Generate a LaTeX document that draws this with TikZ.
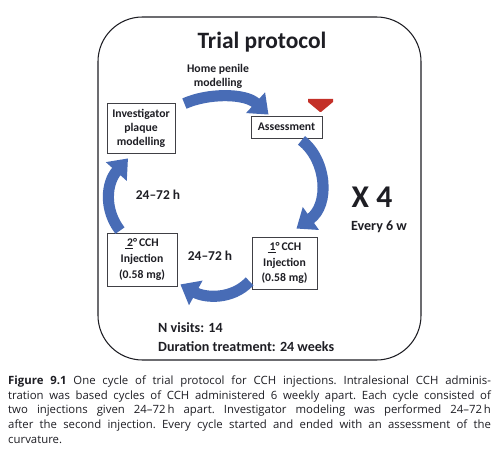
\documentclass[tikz,border=0pt]{standalone}
\usepackage{fontspec}
\setmainfont{Carlito}
\newfontfamily\capfont[Ligatures=TeX]{Open Sans}
\usetikzlibrary{arrows.meta}
\definecolor{arrblue}{RGB}{72,108,182}
\definecolor{tri}{RGB}{196,48,40}
\definecolor{ink}{RGB}{30,30,36}
\tikzset{
  px/.style={x=0.03cm,y=-0.03cm},
  stepbox/.style={draw=ink!85,line width=0.7pt,fill=white,inner sep=0pt,align=center,text=ink,font=\bfseries\fontsize{10}{12}\selectfont},
  cchbox/.style={stepbox,font=\bfseries\fontsize{10}{13.5}\selectfont},
  lbl/.style={text=ink,inner sep=0pt,font=\bfseries\fontsize{10}{12}\selectfont,align=center},
  bigarrow/.style={draw=arrblue,line width=9.5pt,line cap=butt,-{Triangle[length=15pt,width=23pt]}}
}
\begin{document}
\begin{tikzpicture}[px]
\useasboundingbox (0,0) rectangle (500,460);
\fill[white] (0,0) rectangle (500,460);
% outer frame
\draw[ink,line width=0.9pt,rounded corners=38] (98,17) rectangle (421,360);
\node[lbl,font=\bfseries\fontsize{20}{24}\selectfont] (title) at (262,42) {Trial protocol};
\node[lbl] (home) at (218,76) {Home penile\\modelling};
% boxes
\node[stepbox,minimum width=2.04cm,minimum height=1.5cm] (inv) at (141,128) {Investigator\\plaque\\modelling};
\node[stepbox,minimum width=2.13cm,minimum height=0.66cm] (ass) at (286.5,127) {Assessment};
\node[cchbox,minimum width=1.95cm,minimum height=1.56cm] (c1) at (284.5,263) {\underline{\,1}°\,CCH\\Injection\\(0.58 mg)};
\node[cchbox,minimum width=2.1cm,minimum height=1.59cm] (c2) at (142,259.5) {\underline{\,2}°\,CCH\\Injection\\(0.58 mg)};
% red marker
\fill[tri] (308,99) -- (333,99) -- (333,102) -- (321,112) -- (320,112) -- (308,102) -- cycle;
% arrows
\draw[bigarrow] ([shift={(9,1)}]inv.north east) .. controls (208,93) and (245,93) .. ([shift={(-18,-1)}]ass.north);
\draw[bigarrow] ([shift={(15,2)}]ass.south) .. controls (327,160) and (330,205) .. ([shift={(12,-8)}]c1.north);
\draw[bigarrow] ([shift={(-2,-8)}]c1.south west) .. controls (232,300) and (205,298) .. ([shift={(3,-2)}]c2.south east);
\draw[bigarrow] ([shift={(-22,-2)}]c2.north) .. controls (104,210) and (106,183) .. ([shift={(-13,5)}]inv.south);
% labels
\node[lbl,font=\bfseries\fontsize{11.5}{13}\selectfont] (t1) at (158,195) {24--72 h};
\node[lbl,font=\bfseries\fontsize{11.5}{13}\selectfont] (t2) at (210,256) {24--72 h};
\node[lbl,font=\bfseries\fontsize{27}{30}\selectfont] (x4) at (372,197) {X 4};
\node[lbl,font=\bfseries\fontsize{12}{14}\selectfont] (ev) at (379,227) {Every 6 w};
\node[lbl,anchor=west,font=\bfseries\fontsize{12}{14}\selectfont] (nv) at (158,328) {N visits: 14};
\node[lbl,anchor=west,font=\bfseries\fontsize{12}{14}\selectfont] (dur) at (158,347) {Duration treatment: 24 weeks};
% caption
\node[anchor=north west,inner sep=0pt,text width=412pt,align=justify,text=ink,
      font=\capfont\fontsize{9.7}{12.4}\selectfont\frenchspacing] (cap) at (8,376)
{\textbf{Figure 9.1} One cycle of trial protocol for CCH injections. Intralesional CCH adminis-\linebreak
tration was based cycles of CCH administered 6 weekly apart. Each cycle consisted of\linebreak
two injections given 24--72\,h apart. Investigator modeling was performed 24--72\,h\linebreak
after the second injection. Every cycle started and ended with an assessment of the\linebreak
curvature.};
\end{tikzpicture}
\end{document}
